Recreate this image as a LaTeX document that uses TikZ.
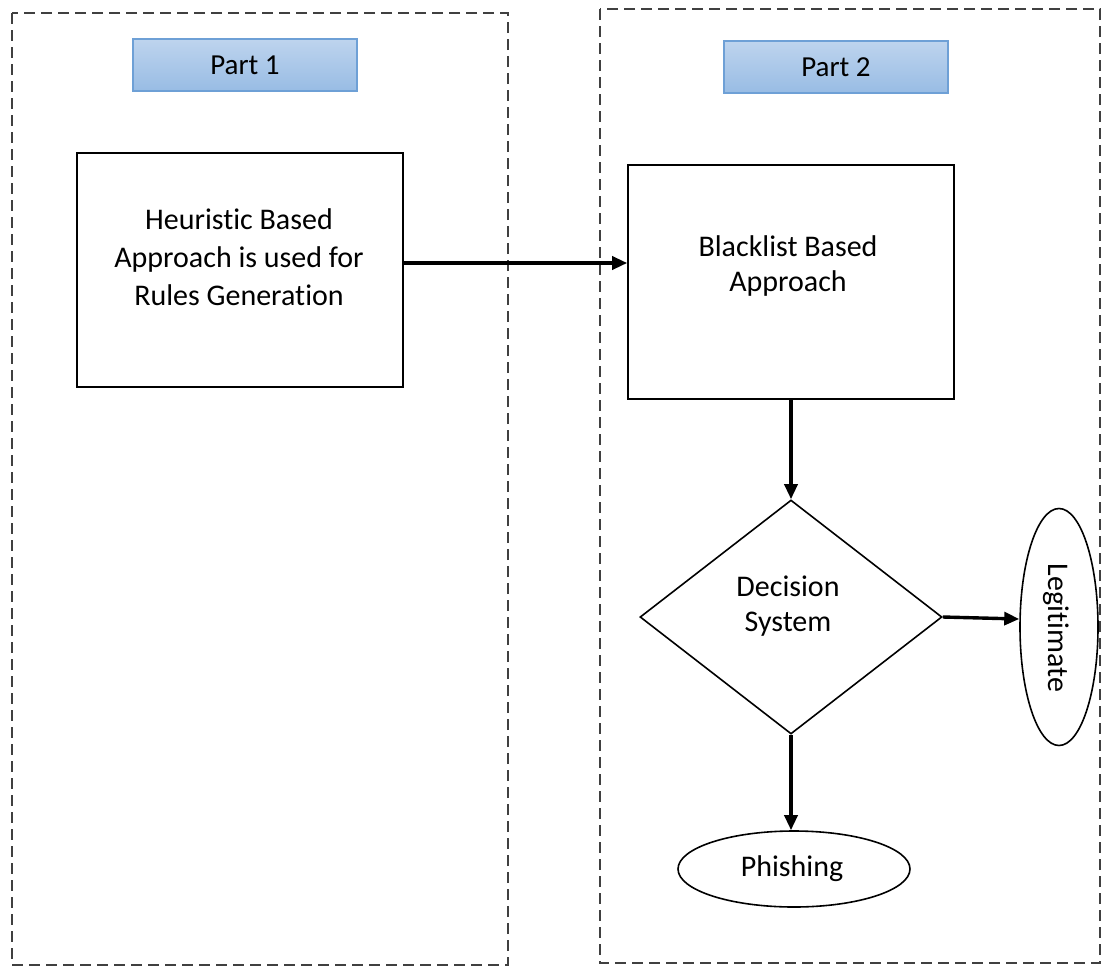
\documentclass[tikz,border=0pt]{standalone}
\usepackage{fontspec}
\setmainfont{Carlito}[Ligatures=NoCommon]
\usetikzlibrary{shapes.geometric,arrows.meta}
\tikzset{
  panel/.style={draw=black!75, line width=1.6pt, dash pattern=on 11pt off 6pt},
  tag/.style={draw={rgb,255:red,110;green,160;blue,214}, line width=1.3pt,
    top color={rgb,255:red,190;green,212;blue,238},
    bottom color={rgb,255:red,152;green,188;blue,228},
    minimum width=224pt, minimum height=52pt, font=\fontsize{29}{32}\selectfont},
  block/.style={draw=black, line width=1.6pt, minimum width=326pt, minimum height=234pt},
  txt/.style={font=\fontsize{30}{38}\selectfont, align=center},
  flow/.style={line width=3.4pt, -{Triangle[length=15pt,width=13pt]}},
  oval/.style={draw=black, line width=1.6pt, ellipse, inner sep=0pt},
}
\begin{document}
\begin{tikzpicture}[x=1pt,y=-1pt]
\useasboundingbox (0,0) rectangle (1103,967);
% two dashed panels
\draw[panel] (12,13) rectangle (508,965);
\draw[panel] (600,9) rectangle (1100,963);
% panel headers
\node[tag] (p1) at (245,65) {Part 1};
\node[tag] (p2) at (836,67) {Part 2};
% blocks
\node[block] (heur) at (240,270) {};
\node[txt] (heurtxt) at (239,257) {Heuristic Based\\Approach is used for\\Rules Generation};
\node[block] (black) at (791,282) {};
\node[txt, font=\fontsize{30}{35}\selectfont] (blacktxt) at (788,266) {Blacklist Based\\Approach};
% decision diamond
\node[draw=black, line width=1.6pt, diamond, minimum width=302pt, minimum height=234pt, inner sep=0pt, aspect=1.29] (dec) at (791,617) {};
\node[txt, font=\fontsize{30}{35}\selectfont] (dectxt) at (788,606) {Decision\\System};
% outcomes
\node[oval, minimum width=78pt, minimum height=237pt] (legit) at (1059,627) {};
\node[rotate=-90, font=\fontsize{30}{32}\selectfont] (legittxt) at (1056,628) {Legitimate};
\node[oval, minimum width=232pt, minimum height=76pt] (phish) at (794,869) {};
\node[font=\fontsize{30}{32}\selectfont] (phishtxt) at (792,869) {Phishing};
% connectors
\draw[flow] (heur.east |- 0,263) -- (black.west |- 0,263);
\draw[flow] (black.south -| 791,0) -- (dec.north);
\draw[flow] (dec.east) -- (legit.west |- 0,619);
\draw[flow] (dec.south) -- (phish.north -| 791,0);
\end{tikzpicture}
\end{document}
